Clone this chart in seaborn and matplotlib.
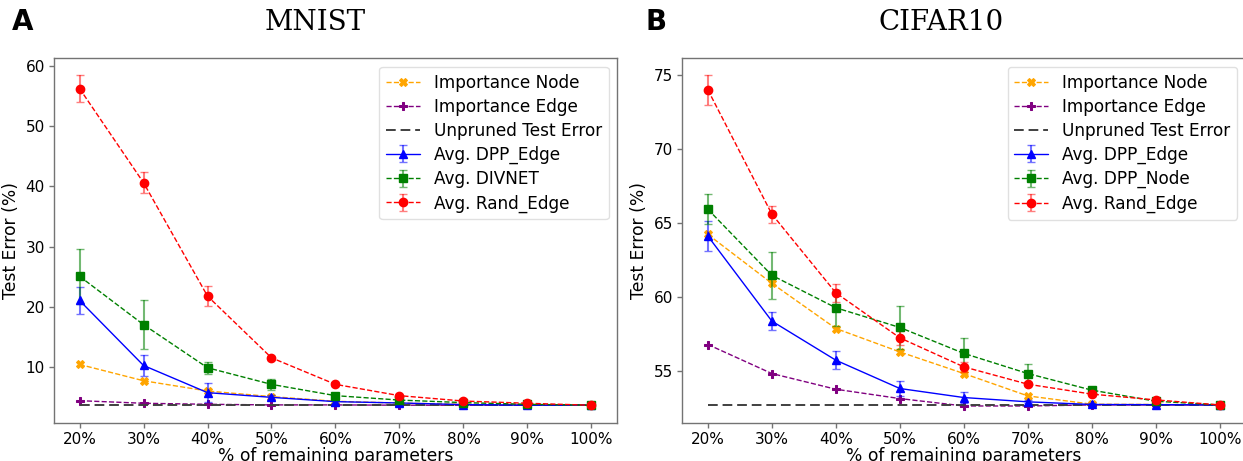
import numpy as np
import pandas as pd
import seaborn as sns
import matplotlib
matplotlib.use("Agg")
import matplotlib.pyplot as plt

# ---------------- data ----------------
remaining = [20, 30, 40, 50, 60, 70, 80, 90, 100]

# MNIST
mn_imp_node = [10.5, 7.8, 6.1, 5.17, 4.4, 4.1, 3.9, 3.8, 3.74]
mn_imp_edge = [4.5, 4.07, 3.9, 3.8, 3.8, 3.75, 3.74, 3.74, 3.74]
mn_unpruned = [3.74] * 9
mn_dpp_edge = [21.1, 10.33, 5.83, 5.05, 4.34, 4.12, 3.85, 3.76, 3.74]
mn_dpp_edge_err = [2.2, 1.7, 1.6, 0.4, 0.2, 0.15, 0.1, 0.05, 0.05]
mn_divnet = [25.1, 17.09, 9.95, 7.2, 5.33, 4.6, 4.18, 3.9, 3.74]
mn_divnet_err = [4.6, 4.07, 0.95, 0.9, 0.3, 0.2, 0.15, 0.1, 0.05]
mn_rand_edge = [56.2, 40.6, 21.82, 11.6, 7.2, 5.33, 4.44, 4.07, 3.74]
mn_rand_edge_err = [2.2, 1.7, 1.6, 0.3, 0.2, 0.15, 0.1, 0.05, 0.05]

# CIFAR10
cf_imp_node = [64.23, 60.93, 57.88, 56.3, 54.84, 53.33, 52.77, 52.75, 52.72]
cf_imp_edge = [56.8, 54.84, 53.78, 53.15, 52.65, 52.65, 52.72, 52.72, 52.72]
cf_unpruned = [52.72] * 9
cf_dpp_edge = [64.12, 58.38, 55.74, 53.83, 53.22, 52.93, 52.75, 52.74, 52.72]
cf_dpp_edge_err = [1.0, 0.6, 0.6, 0.5, 0.4, 0.1, 0.1, 0.05, 0.05]
cf_dpp_node = [65.93, 61.47, 59.28, 57.95, 56.2, 54.84, 53.72, 52.97, 52.72]
cf_dpp_node_err = [1.02, 1.6, 1.2, 1.43, 1.05, 0.67, 0.15, 0.1, 0.05]
cf_rand_edge = [73.99, 65.6, 60.29, 57.25, 55.29, 54.12, 53.45, 53.06, 52.72]
cf_rand_edge_err = [1.0, 0.58, 0.6, 0.48, 0.34, 0.15, 0.1, 0.08, 0.05]

x_ticklabels = [f"{v}%" for v in remaining]

# ---------------- style ----------------
sns.set_style("white")
plt.rcParams["font.family"] = ["DejaVu Sans"]
plt.rcParams["axes.edgecolor"] = "0.45"
plt.rcParams["axes.linewidth"] = 1.0
plt.rcParams["text.color"] = "black"
plt.rcParams["axes.labelcolor"] = "black"

fig = plt.figure(figsize=(12.43, 4.61), dpi=100)
ax1 = fig.add_axes([0.0434, 0.0824, 0.4530, 0.7911])
ax2 = fig.add_axes([0.5489, 0.0824, 0.4530, 0.7911])

MS = 5.5


def draw(ax, imp_node, imp_edge, unpruned, s1, e1, s2, e2, l2, s3, e3):
    df = pd.DataFrame({"x": remaining, "node": imp_node, "edge": imp_edge, "unp": unpruned})
    sns.lineplot(data=df, x="x", y="node", ax=ax, color="orange", marker="X",
                 markersize=MS, markeredgecolor="orange", linestyle="--", lw=1,
                 label="Importance Node")
    sns.lineplot(data=df, x="x", y="edge", ax=ax, color="purple", marker="P",
                 markersize=MS, markeredgecolor="purple", linestyle="--", lw=1,
                 label="Importance Edge")
    sns.lineplot(data=df, x="x", y="unp", ax=ax, color="0.25", linestyle=(0, (5, 2.5)),
                 lw=1.4, label="Unpruned Test Error")
    ax.errorbar(remaining, s1, yerr=e1, color="blue", marker="^", markersize=MS,
                linestyle="-", lw=1, ecolor=(0, 0, 1, 0.55), capsize=3,
                elinewidth=1.5, label="Avg. DPP_Edge")
    ax.errorbar(remaining, s2, yerr=e2, color="green", marker="s", markersize=MS,
                linestyle="--", lw=1, ecolor=(0, 0.5, 0, 0.55), capsize=3,
                elinewidth=1.5, label=l2)
    ax.errorbar(remaining, s3, yerr=e3, color="red", marker="o", markersize=MS + 0.5,
                linestyle="--", lw=1, ecolor=(1, 0, 0, 0.5), capsize=3,
                elinewidth=1.5, label="Avg. Rand_Edge")
    ax.set_xlim(16, 104)
    ax.set_xticks(remaining)
    ax.set_xticklabels(x_ticklabels)
    ax.set_xlabel("% of remaining parameters", fontsize=12.3, labelpad=0)
    ax.set_ylabel("Test Error (%)", fontsize=12.3, labelpad=4)
    ax.tick_params(axis="both", labelsize=11, length=3.5, width=1,
                   colors="0.45", labelcolor="black", bottom=True, left=True, pad=3)
    ax.legend(loc="upper right", fontsize=12.2, frameon=True, fancybox=True,
              framealpha=0.8, edgecolor="0.85", labelspacing=0.36)
    for sp in ax.spines.values():
        sp.set_visible(True)


draw(ax1, mn_imp_node, mn_imp_edge, mn_unpruned, mn_dpp_edge, mn_dpp_edge_err,
     mn_divnet, mn_divnet_err, "Avg. DIVNET", mn_rand_edge, mn_rand_edge_err)
ax1.set_ylim(0.8, 61.2)
ax1.set_yticks([10, 20, 30, 40, 50, 60])

draw(ax2, cf_imp_node, cf_imp_edge, cf_unpruned, cf_dpp_edge, cf_dpp_edge_err,
     cf_dpp_node, cf_dpp_node_err, "Avg. DPP_Node", cf_rand_edge, cf_rand_edge_err)
ax2.set_ylim(51.5, 76.12)
ax2.set_yticks([55, 60, 65, 70, 75])

fig.text(12 / 1243, 1 - 22 / 461, "A", fontsize=20, fontweight="bold",
         ha="left", va="center")
fig.text(646 / 1243, 1 - 22 / 461, "B", fontsize=20, fontweight="bold",
         ha="left", va="center")
fig.text(315 / 1243, 1 - 23 / 461, "MNIST", fontsize=20, family="DejaVu Serif",
         ha="center", va="center")
fig.text(941 / 1243, 1 - 23 / 461, "CIFAR10", fontsize=20, family="DejaVu Serif",
         ha="center", va="center")

fig.savefig("out.png", dpi=100)
